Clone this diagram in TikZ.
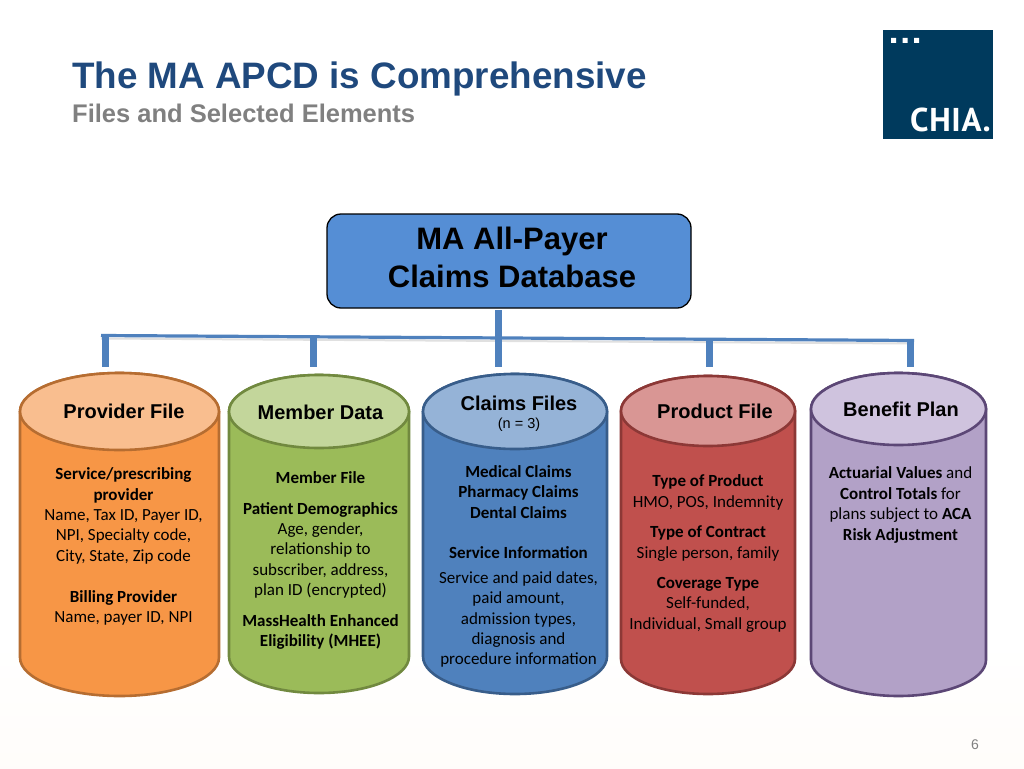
\documentclass[tikz,border=0pt]{standalone}
\usepackage{fontspec}
\setmainfont{Carlito}
\newfontfamily\arialf{Liberation Sans}
\newfontfamily\logof{PT Sans}
\definecolor{bar}{HTML}{4F81BD}
\definecolor{navy}{HTML}{003A5D}
\definecolor{titleblue}{HTML}{1F497D}
\definecolor{dbfill}{HTML}{558ED5}
\definecolor{orb}{HTML}{F79646}\definecolor{ort}{HTML}{F9BE8F}\definecolor{orl}{HTML}{B66D31}
\definecolor{grb}{HTML}{9BBB59}\definecolor{grt}{HTML}{C3D69B}\definecolor{grl}{HTML}{71893F}
\definecolor{blb}{HTML}{4F81BD}\definecolor{blt}{HTML}{95B3D7}\definecolor{bll}{HTML}{385D8A}
\definecolor{reb}{HTML}{C0504D}\definecolor{ret}{HTML}{D99694}\definecolor{rel}{HTML}{8C3836}
\definecolor{pub}{HTML}{B2A1C7}\definecolor{put}{HTML}{CFC3DE}\definecolor{pul}{HTML}{5C4776}
\tikzset{
  bodytext/.style={align=center,inner sep=0pt,text=black,font=\fontsize{17}{20.4}\selectfont},
  headtext/.style={inner sep=0pt,text=black,font=\arialf\bfseries\fontsize{20}{24}\selectfont},
  stub/.style={draw=bar,line width=7pt},
  busline/.style={draw=bar,line width=3.2pt},
  cylline/.style={line width=2.6pt},
}
% name, left, right, top, ellipse bottom, bottom, body colour, top colour, line colour
\newcommand{\cylshape}[9]{%
  \pgfmathsetmacro{\rx}{(#3-#2)/2}%
  \pgfmathsetmacro{\ry}{(#5-#4)/2}%
  \pgfmathsetmacro{\cx}{(#3+#2)/2}%
  \pgfmathsetmacro{\cy}{(#5+#4)/2}%
  \pgfmathsetmacro{\by}{#6-\ry}%
  \path[fill=#7,draw=#9,cylline] (#2,\cy) -- (#2,\by) arc[start angle=180,end angle=0,x radius=\rx,y radius=\ry] -- (#3,\cy) arc[start angle=0,end angle=-180,x radius=\rx,y radius=\ry] -- cycle;
  \path[fill=#8,draw=#9,cylline] (\cx,\cy) ellipse[x radius=\rx,y radius=\ry];
  \coordinate (#1) at (\cx,#4);
}
\begin{document}
\begin{tikzpicture}[x=1pt,y=-1pt]
\useasboundingbox (0,0) rectangle (1024,768);
\fill[white] (0,0) rectangle (1024,640);
\shade[top color=white,bottom color=white!98!orange] (0,640) rectangle (1024,768);

% title
\node[anchor=base west,inner sep=0pt,text=titleblue,font=\arialf\bfseries\fontsize{36.8}{40}\selectfont] (title) at (72,88) {The MA APCD is Comprehensive};
\node[anchor=base west,inner sep=0pt,text=black!50,font=\arialf\bfseries\fontsize{25.5}{30}\selectfont] (subtitle) at (72,122) {Files and Selected Elements};

% logo
\fill[navy] (883,30) rectangle (992.5,138.5);
\fill[white] (891,38) rectangle (896,43) (902.5,38) rectangle (907.5,43) (914,38) rectangle (919,43);
\node[anchor=base west,inner sep=0pt,text=white,font=\logof\bfseries\fontsize{33}{34}\selectfont\addfontfeature{LetterSpace=2}] (logo) at (910,131.5) {CHIA.};

% database box
\node[draw=black,line width=1.3pt,fill=dbfill,rounded corners=14pt,minimum width=364pt,minimum height=94pt,inner sep=0pt] (db) at (509,261) {};
\node[inner sep=0pt,align=center,text=black,font=\arialf\bfseries\fontsize{31}{38}\selectfont] (dbtext) at (512,257) {MA All-Payer\\Claims Database};

% cylinders
\cylshape{provider}{20}{219}{373}{450}{696}{orb}{ort}{orl}
\cylshape{member}{229}{409}{375}{448}{693}{grb}{grt}{grl}
\cylshape{claims}{423}{607}{374}{449}{694}{blb}{blt}{bll}
\cylshape{product}{621}{795}{376}{446}{694}{reb}{ret}{rel}
\cylshape{benefit}{811}{986}{373}{445}{696}{pub}{put}{pul}

% connectors
\coordinate (busL) at (101,335.5);
\coordinate (busR) at (914,340.5);
\coordinate (busM) at (313,337);
\coordinate (busP) at (709,339.5);
\coordinate (endA) at (105,367);
\coordinate (endB) at (313,367);
\coordinate (endC) at (498,367);
\coordinate (endD) at (709,367);
\coordinate (endE) at (910,367);
\coordinate (dbOut) at (498,310);
\draw[black!12,line width=2pt] ([yshift=-3pt]busL) -- ([yshift=-3pt]busR);
\draw[busline] (busL) -- (busR);
\draw[stub] (busL -| endA) -- (endA);
\draw[stub] (busM) -- (endB);
\draw[stub] (dbOut) -- (endC);
\draw[stub] (busP) -- (endD);
\draw[stub] (busR -| endE) -- (endE);

% heads
\node[headtext] (h1) at (124,411) {Provider File};
\node[headtext] (h2) at (320.5,412) {Member Data};
\node[headtext] (h3) at (519,403) {Claims Files};
\node[inner sep=0pt,text=black,font=\arialf\fontsize{14.5}{16}\selectfont] (h3b) at (519,424.5) {(n = 3)};
\node[headtext] (h4) at (715,411) {Product File};
\node[headtext] (h5) at (901,409) {Benefit Plan};

% bodies
\node[bodytext] (t1) at (123.5,546.5) {\textbf{Service/prescribing}\\\textbf{provider}\\Name, Tax ID, Payer ID,\\NPI, Specialty code,\\City, State, Zip code\\[20.4pt]\textbf{Billing Provider}\\Name, payer ID, NPI};
\node[bodytext] (t2) at (320.5,560.5) {\textbf{Member File}\\[10pt]\textbf{Patient Demographics}\\Age, gender,\\relationship to\\subscriber, address,\\plan ID (encrypted)\\[10pt]\textbf{MassHealth Enhanced}\\\textbf{Eligibility (MHEE)}};
\node[bodytext] (t3) at (518.5,566.5) {\textbf{Medical Claims}\\\textbf{Pharmacy Claims}\\\textbf{Dental Claims}\\[20.4pt]\textbf{Service Information}\\[4pt]Service and paid dates,\\paid amount,\\admission types,\\diagnosis and\\procedure information};
\node[bodytext] (t4) at (708,553.5) {\textbf{Type of Product}\\HMO, POS, Indemnity\\[10pt]\textbf{Type of Contract}\\Single person, family\\[10pt]\textbf{Coverage Type}\\Self-funded,\\Individual, Small group};
\node[bodytext] (t5) at (900.5,505) {\textbf{Actuarial Values} and\\\textbf{Control Totals} for\\plans subject to \textbf{ACA}\\\textbf{Risk Adjustment}};

% page number
\node[inner sep=0pt,text=black!50,font=\arialf\fontsize{14}{16}\selectfont] (page) at (975,745) {6};
\end{tikzpicture}
\end{document}
